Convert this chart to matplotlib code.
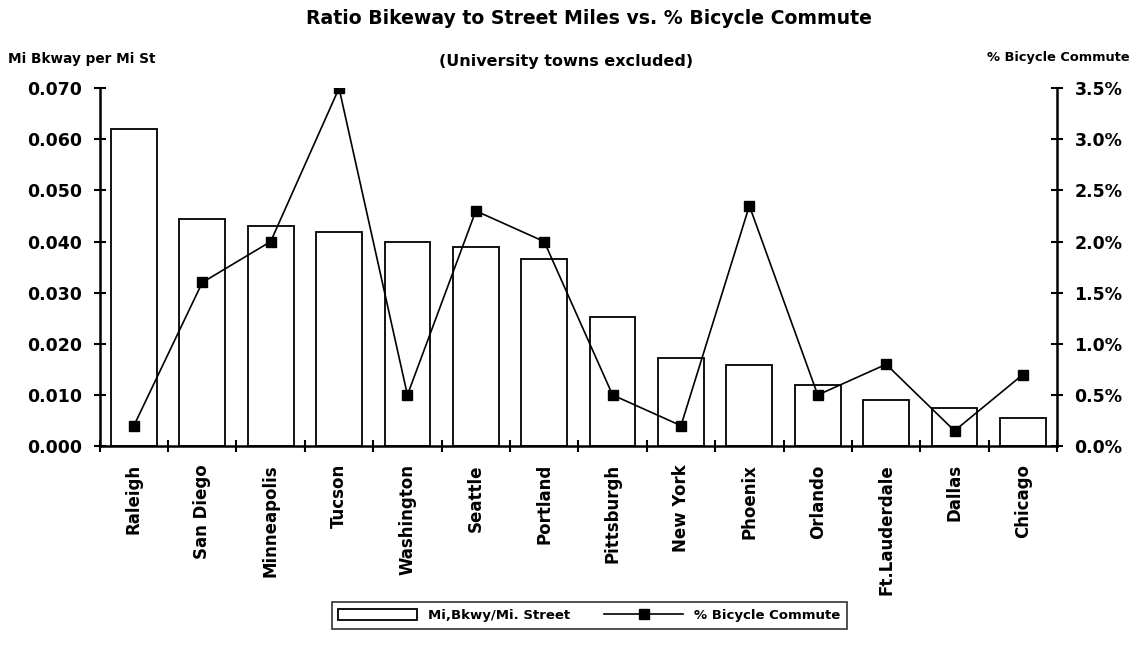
import matplotlib
matplotlib.use("Agg")
import matplotlib.pyplot as plt
import numpy as np
from matplotlib.ticker import FuncFormatter, MultipleLocator

plt.rcParams["font.family"] = ["DejaVu Sans"]
plt.rcParams["font.weight"] = "bold"

cities = ["Raleigh", "San Diego", "Minneapolis", "Tucson", "Washington", "Seattle",
          "Portland", "Pittsburgh", "New York", "Phoenix", "Orlando", "Ft.Lauderdale",
          "Dallas", "Chicago"]
bikeway_ratio = [0.062, 0.0445, 0.043, 0.0418, 0.040, 0.039, 0.0365, 0.0252,
                 0.0172, 0.0158, 0.012, 0.009, 0.0075, 0.0055]
bike_commute = [0.2, 1.6, 2.0, 3.5, 0.5, 2.3, 2.0, 0.5, 0.2, 2.35, 0.5, 0.8, 0.15, 0.7]

fig = plt.figure(figsize=(11.33, 6.58), dpi=100)
ax = fig.add_axes([0.088, 0.322, 0.845, 0.544])
x = np.arange(len(cities))

bars = ax.bar(x, bikeway_ratio, width=0.67, facecolor="white", edgecolor="black",
              linewidth=1.3, label="Mi,Bkwy/Mi. Street")
ax.set_xlim(-0.5, len(cities) - 0.5)
ax.set_ylim(0, 0.070)
ax.yaxis.set_major_locator(MultipleLocator(0.010))
ax.yaxis.set_major_formatter(FuncFormatter(lambda v, p: f"{v:.3f}"))

ax2 = ax.twinx()
line, = ax2.plot(x, bike_commute, color="black", linewidth=1.2, marker="s",
                 markersize=7, label="% Bicycle Commute")
ax2.set_ylim(0, 3.5)
ax2.yaxis.set_major_locator(MultipleLocator(0.5))
ax2.yaxis.set_major_formatter(FuncFormatter(lambda v, p: f"{v:.1f}%"))

for a in (ax, ax2):
    a.spines["top"].set_visible(False)
    for s in a.spines.values():
        s.set_linewidth(1.8)
ax.spines["right"].set_visible(False)
ax2.spines["left"].set_visible(False)
ax2.spines["bottom"].set_visible(False)

ax.set_xticks(np.arange(len(cities) + 1) - 0.5, minor=False)
ax.set_xticklabels([])
ax.set_xticks(x, minor=True)
ax.set_xticklabels(cities, minor=True, rotation=90, fontsize=12, fontweight="bold")
ax.tick_params(axis="x", which="minor", length=0, pad=13)
ax.tick_params(axis="x", which="major", direction="inout", length=9, width=1.5)
ax.tick_params(axis="y", direction="inout", length=9, width=1.5, labelsize=12.5, pad=8)
ax2.tick_params(axis="y", direction="inout", length=9, width=1.5, labelsize=12.5, pad=8)

fig.text(0.52, 0.972, "Ratio Bikeway to Street Miles vs. % Bicycle Commute",
         ha="center", va="center", fontsize=13.6, fontweight="bold")
fig.text(0.5, 0.906, "(University towns excluded)", ha="center", va="center",
         fontsize=11.5, fontweight="bold")
fig.text(0.007, 0.91, "Mi Bkway per Mi St", ha="left", va="center", fontsize=9.8,
         fontweight="bold")
fig.text(0.997, 0.913, "% Bicycle Commute", ha="right", va="center", fontsize=9.4,
         fontweight="bold")

leg = fig.legend(handles=[bars, line], loc="center", bbox_to_anchor=(0.52, 0.065),
                 ncol=2, frameon=True, fancybox=False, edgecolor="black",
                 fontsize=9.5, handlelength=6, handleheight=1.0, columnspacing=2.6,
                 borderpad=0.5, borderaxespad=0)
leg.get_frame().set_linewidth(1.2)

fig.savefig("out.png", dpi=100)
